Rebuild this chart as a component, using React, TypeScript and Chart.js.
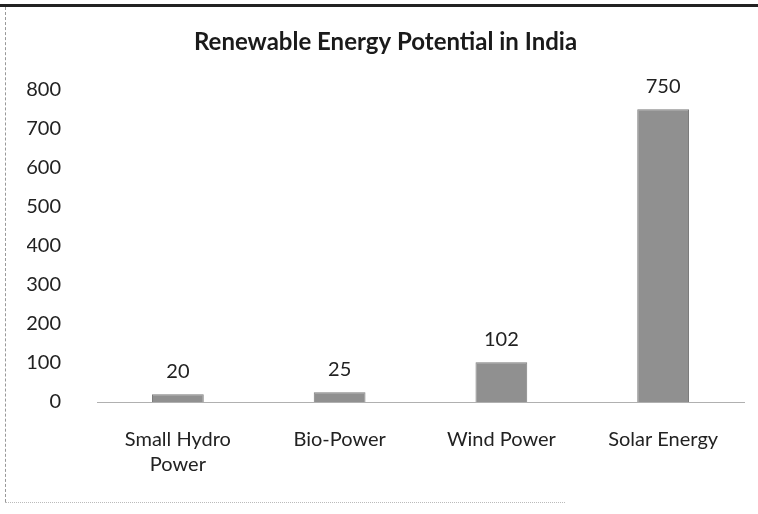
import React, { useEffect, useRef } from "react";
import { Chart, registerables } from "chart.js";

Chart.register(...registerables);

const categories: (string | string[])[] = [["Small Hydro", "Power"], "Bio-Power", "Wind Power", "Solar Energy"];
const potential: number[] = [20, 25, 102, 750];
const yTicks: number[] = [0, 100, 200, 300, 400, 500, 600, 700, 800];

const FONT = "Lato, 'Open Sans', sans-serif";

const valueLabels = {
  id: "valueLabels",
  afterDatasetsDraw(chart: any) {
    const ctx = chart.ctx;
    const meta = chart.getDatasetMeta(0);
    ctx.save();
    ctx.font = `20px ${FONT}`;
    ctx.fillStyle = "#222";
    ctx.textAlign = "center";
    ctx.textBaseline = "middle";
    meta.data.forEach((bar: any, i: number) => {
      ctx.fillText(String(potential[i]), bar.x, bar.y - 23);
    });
    ctx.restore();
  },
};

export default function App() {
  const ref = useRef<HTMLCanvasElement | null>(null);
  useEffect(() => {
    document.body.style.margin = "0";
    const chart = new Chart(ref.current as HTMLCanvasElement, {
      type: "bar",
      data: {
        labels: categories,
        datasets: [
          {
            data: potential,
            backgroundColor: "#909090",
            borderColor: "#7c7c7c",
            borderWidth: 1,
            categoryPercentage: 1,
            barPercentage: 0.32,
          },
        ],
      },
      options: {
        animation: false,
        responsive: false,
        layout: { padding: { left: 27, right: 14, top: 8, bottom: 12 } },
        plugins: {
          legend: { display: false },
          tooltip: { enabled: false },
          title: {
            display: true,
            text: "Renewable Energy Potential in India",
            color: "#1a1a1a",
            font: { family: FONT, size: 24, weight: "bold" },
            padding: { top: 20, bottom: 33 },
          },
        },
        scales: {
          x: {
            grid: { display: false, drawTicks: false },
            border: { display: true, color: "#b0b0b0", width: 1 },
            ticks: { color: "#222", font: { family: FONT, size: 20, lineHeight: 1.25 }, padding: 25, maxRotation: 0, autoSkip: false },
            afterFit: (s: any) => {
              s.height = 100;
              s.paddingLeft = 0;
              s.paddingRight = 0;
            },
          },
          y: {
            min: 0,
            max: 800,
            afterBuildTicks: (axis: any) => {
              axis.ticks = yTicks.map((v) => ({ value: v }));
            },
            grid: { display: false, drawTicks: false },
            border: { display: false },
            ticks: { color: "#222", font: { family: FONT, size: 20 }, padding: 36 },
            afterFit: (s: any) => {
              s.width = 70;
            },
          },
        },
      },
      plugins: [valueLabels],
    } as any);
    return () => chart.destroy();
  }, []);
  return (
    <div style={{ width: 758, height: 514, position: "relative", background: "#fff" }}>
      <canvas ref={ref} width={758} height={514} style={{ display: "block" }} />
      <div style={{ position: "absolute", left: 0, top: 4, width: 758, height: 3, background: "#222", pointerEvents: "none" }} />
      <div style={{ position: "absolute", left: 5, top: 7, width: 0, height: 495, borderLeft: "1px dashed #999", pointerEvents: "none" }} />
      <div style={{ position: "absolute", left: 5, top: 502, width: 560, height: 0, borderTop: "1px dotted #bbb", pointerEvents: "none" }} />
    </div>
  );
}
